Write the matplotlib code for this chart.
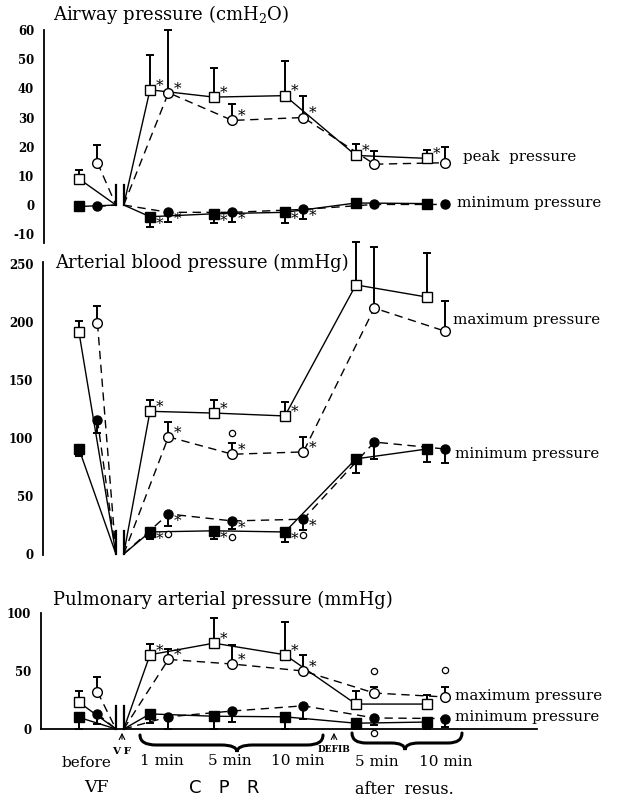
import numpy as np
import matplotlib
matplotlib.use('Agg')
from matplotlib import pyplot as plt
from matplotlib.path import Path
from matplotlib.patches import PathPatch
from matplotlib.transforms import Affine2D

W, H = 617, 799
plt.rcParams['font.family'] = 'DejaVu Serif'
plt.rcParams['mathtext.fontset'] = 'dejavuserif'
plt.rcParams['axes.unicode_minus'] = False

# time points: before VF, CPR 1 / 5 / 10 min, after resus. 5 / 10 min
group_x = [0, 1, 1.9, 2.9, 3.9, 4.9]
circle_shift = 0.26
vf_left, vf_right = 0.52, 0.63

# airway pressure (cmH2O)
air_peak_sq = [9, 39.5, 37, 37.5, 17, 16]
air_peak_sq_err = [3, 12, 10, 12, 4, 3]
air_peak_sq_star = [0, 1, 1, 1, 1, 1]
air_peak_ci = [14.5, 38.5, 29, 30, 14, 14.5]
air_peak_ci_err = [6, 21.5, 5.5, 7.5, 4.5, 5.5]
air_peak_ci_star = [0, 1, 1, 1, 0, 0]
air_min_sq = [-0.5, -4, -3, -2.5, 0.7, 0.5]
air_min_sq_err = [0, 3.5, 3, 3.5, 0, 0]
air_min_sq_star = [0, 1, 1, 1, 0, 0]
air_min_ci = [-0.5, -2.5, -2.5, -1.5, 0.2, 0.2]
air_min_ci_err = [0, 3.3, 3.3, 3.3, 0, 0]
air_min_ci_star = [0, 1, 1, 1, 0, 0]

# arterial blood pressure (mmHg)
art_max_sq = [191, 123, 121.5, 119, 232, 221.5]
art_max_sq_err = [10, 10, 11, 12, 37, 38]
art_max_sq_star = [0, 1, 1, 1, 0, 0]
art_max_ci = [199, 101, 86, 88, 212, 192]
art_max_ci_err = [15, 13, 10, 13, 53, 26]
art_max_ci_star = [0, 1, 1, 1, 0, 0]
art_min_sq = [90.5, 19, 20, 19, 82, 90.5]
art_min_sq_err = [6, 6, 7, 9, 12, 11]
art_min_sq_star = [0, 1, 1, 1, 0, 0]
art_min_ci = [115.5, 34.5, 28.5, 30, 96.5, 90.5]
art_min_ci_err = [11, 10, 7, 9, 15, 12]
art_min_ci_star = [0, 1, 1, 1, 0, 0]
art_sig_idx = [2, 1, 2, 3]
art_sig_val = [104, 17, 14.5, 16]

# pulmonary arterial pressure (mmHg)
pul_max_sq = [23, 64, 74, 64, 21.5, 21.5]
pul_max_sq_err = [10, 9, 22, 28, 11, 8]
pul_max_sq_star = [0, 1, 1, 1, 0, 0]
pul_max_ci = [32, 60, 56, 50, 31, 27.6]
pul_max_ci_err = [13, 9, 16, 14, 5, 9]
pul_max_ci_star = [0, 1, 1, 1, 0, 0]
pul_min_sq = [10, 13, 11, 10.5, 5, 6]
pul_min_sq_err = [10, 8, 11, 10.5, 5, 6]
pul_min_sq_star = [0, 0, 0, 0, 0, 0]
pul_min_ci = [13, 10.5, 15.5, 20, 9.5, 9]
pul_min_ci_err = [8.5, 10.5, 9.5, 11, 6, 7]
pul_min_ci_star = [0, 0, 0, 0, 0, 0]
pul_sig_idx = [4, 5, 4]
pul_sig_val = [50, 51, -3.5]

fig = plt.figure(figsize=(W / 100, H / 100), dpi=100)
px = Affine2D().scale(1.0 / W, -1.0 / H).translate(0, 1) + fig.transFigure


def make_axes(left, top, bottom, zero, k, ticks):
    ax = fig.add_axes([left / W, 1 - bottom / H, (W - left) / W, (bottom - top) / H])
    ax.set_xlim((left - 79) / 71.0, (W - 79) / 71.0)
    ax.set_ylim((zero - bottom) / k, (zero - top) / k)
    ax.patch.set_visible(False)
    for s in ['top', 'right', 'bottom']:
        ax.spines[s].set_visible(False)
    ax.spines['left'].set_linewidth(1.3)
    ax.set_xticks([])
    ax.set_yticks(ticks)
    ax.tick_params(axis='y', length=0, pad=7, labelsize=8.5)
    for t in ax.get_yticklabels():
        t.set_fontweight('bold')
    return ax


def series(ax, vals, errs, stars, circle, filled, upper):
    xs = [g + (circle_shift if circle else 0) for g in group_x]
    ls = (0, (6, 4)) if circle else '-'
    ax.plot([xs[0], vf_left], [vals[0], 0], color='k', lw=1, ls=ls, clip_on=False)
    ax.plot([vf_right] + xs[1:], [0] + vals[1:], color='k', lw=1, ls=ls, clip_on=False)
    ex = [x for x, e in zip(xs, errs) if e > 0]
    ev = [v for v, e in zip(vals, errs) if e > 0]
    ee = [e for e in errs if e > 0]
    if ee:
        z = [0] * len(ee)
        eb = ax.errorbar(ex, ev, yerr=[z, ee] if upper else [ee, z], fmt='none',
                         ecolor='k', elinewidth=1.4, capsize=3, capthick=1.4)
        for a in eb.get_children():
            a.set_clip_on(False)
    ax.plot(xs, vals, ls='none', marker='o' if circle else 's',
            ms=7 if not filled else 6.5, mfc='k' if filled else 'white',
            mec='k', mew=1, clip_on=False, zorder=4)
    for x, v, s in zip(xs, vals, stars):
        if s:
            ax.annotate('*', (x, v), xytext=(4, 3 if upper else -5),
                        textcoords='offset points', fontsize=11,
                        ha='left', va='center', annotation_clip=False)


def sig(ax, idx, vals):
    xs = [group_x[i] + circle_shift for i in idx]
    ax.plot(xs, vals, ls='none', marker='o', ms=4.5, mfc='white', mec='k',
            mew=0.9, clip_on=False, zorder=4)


def vf_break(ax, h):
    for x in [vf_left, vf_right]:
        ax.plot([x, x], [0, h], color='k', lw=1.6, clip_on=False)


def ftext(x, y, s, **kw):
    fig.text(x / W, 1 - y / H, s, va='center', **kw)


# panel 1
ax1 = make_axes(44, 30, 243, 205, 2.92, [-10, 0, 10, 20, 30, 40, 50, 60])
series(ax1, air_peak_sq, air_peak_sq_err, air_peak_sq_star, False, False, True)
series(ax1, air_peak_ci, air_peak_ci_err, air_peak_ci_star, True, False, True)
series(ax1, air_min_sq, air_min_sq_err, air_min_sq_star, False, True, False)
series(ax1, air_min_ci, air_min_ci_err, air_min_ci_star, True, True, False)
vf_break(ax1, 7)
ftext(53, 15, 'Airway pressure (cmH$_2$O)', fontsize=13)
ftext(463, 157, 'peak  pressure', fontsize=10.8)
ftext(457, 203, 'minimum pressure', fontsize=10.8)

# panel 2
ax2 = make_axes(43, 262, 555, 554, 1.16, [0, 50, 100, 150, 200, 250])
series(ax2, art_max_sq, art_max_sq_err, art_max_sq_star, False, False, True)
series(ax2, art_max_ci, art_max_ci_err, art_max_ci_star, True, False, True)
series(ax2, art_min_sq, art_min_sq_err, art_min_sq_star, False, True, False)
series(ax2, art_min_ci, art_min_ci_err, art_min_ci_star, True, True, False)
sig(ax2, art_sig_idx, art_sig_val)
vf_break(ax2, 20)
ftext(55, 263, 'Arterial blood pressure (mmHg)', fontsize=13)
ftext(453, 320, 'maximum pressure', fontsize=10.8)
ftext(455, 454, 'minimum pressure', fontsize=10.8)

# panel 3
ax3 = make_axes(41, 613, 729, 729, 1.16, [0, 50, 100])
ax3.spines['bottom'].set_visible(True)
ax3.spines['bottom'].set_linewidth(1.3)
ax3.spines['bottom'].set_bounds((41 - 79) / 71.0, (537 - 79) / 71.0)
series(ax3, pul_max_sq, pul_max_sq_err, pul_max_sq_star, False, False, True)
series(ax3, pul_max_ci, pul_max_ci_err, pul_max_ci_star, True, False, True)
series(ax3, pul_min_sq, pul_min_sq_err, pul_min_sq_star, False, True, False)
series(ax3, pul_min_ci, pul_min_ci_err, pul_min_ci_star, True, True, False)
sig(ax3, pul_sig_idx, pul_sig_val)
vf_break(ax3, 20)
ftext(53, 600, 'Pulmonary arterial pressure (mmHg)', fontsize=13)
ftext(455, 696, 'maximum pressure', fontsize=10.8)
ftext(455, 717, 'minimum pressure', fontsize=10.8)


def brace(x0, x1, xc, yt, ym, yp, r):
    verts = [(x0, yt), (x0, ym), (x0 + r, ym), (xc - r, ym), (xc, ym), (xc, yp),
             (xc, ym), (xc + r, ym), (x1 - r, ym), (x1, ym), (x1, yt)]
    codes = [Path.MOVETO, Path.CURVE3, Path.CURVE3, Path.LINETO, Path.CURVE3, Path.CURVE3,
             Path.CURVE3, Path.CURVE3, Path.LINETO, Path.CURVE3, Path.CURVE3]
    fig.add_artist(PathPatch(Path(verts, codes), transform=px, fill=False, lw=2.2,
                             edgecolor='k', capstyle='round'))


brace(140, 323, 237, 735, 745, 752, 16)
brace(352, 462, 405, 733, 743, 750, 14)

for x in [122, 334]:
    ax3.annotate('', xy=(x, 730), xytext=(x, 742), xycoords=px, textcoords=px,
                 arrowprops=dict(arrowstyle='->', lw=0.8, color='k'),
                 annotation_clip=False)

ftext(122, 751, 'V F', fontsize=7.5, fontweight='bold', ha='center')
ftext(334, 750, 'DEFIB', fontsize=6.5, fontweight='bold', ha='center')
ftext(87, 763, 'before', fontsize=11, ha='center')
ftext(162, 761, '1 min', fontsize=11, ha='center')
ftext(230, 761, '5 min', fontsize=11, ha='center')
ftext(298, 761, '10 min', fontsize=11, ha='center')
ftext(377, 762, '5 min', fontsize=11, ha='center')
ftext(446, 762, '10 min', fontsize=11, ha='center')
ftext(96, 788, 'VF', fontsize=12.5, ha='center')
ftext(224, 788, 'C   P   R', fontsize=13, ha='center', family='DejaVu Sans')
ftext(404, 790, 'after  resus.', fontsize=11.5, ha='center')

fig.savefig('out.png', dpi=100)
